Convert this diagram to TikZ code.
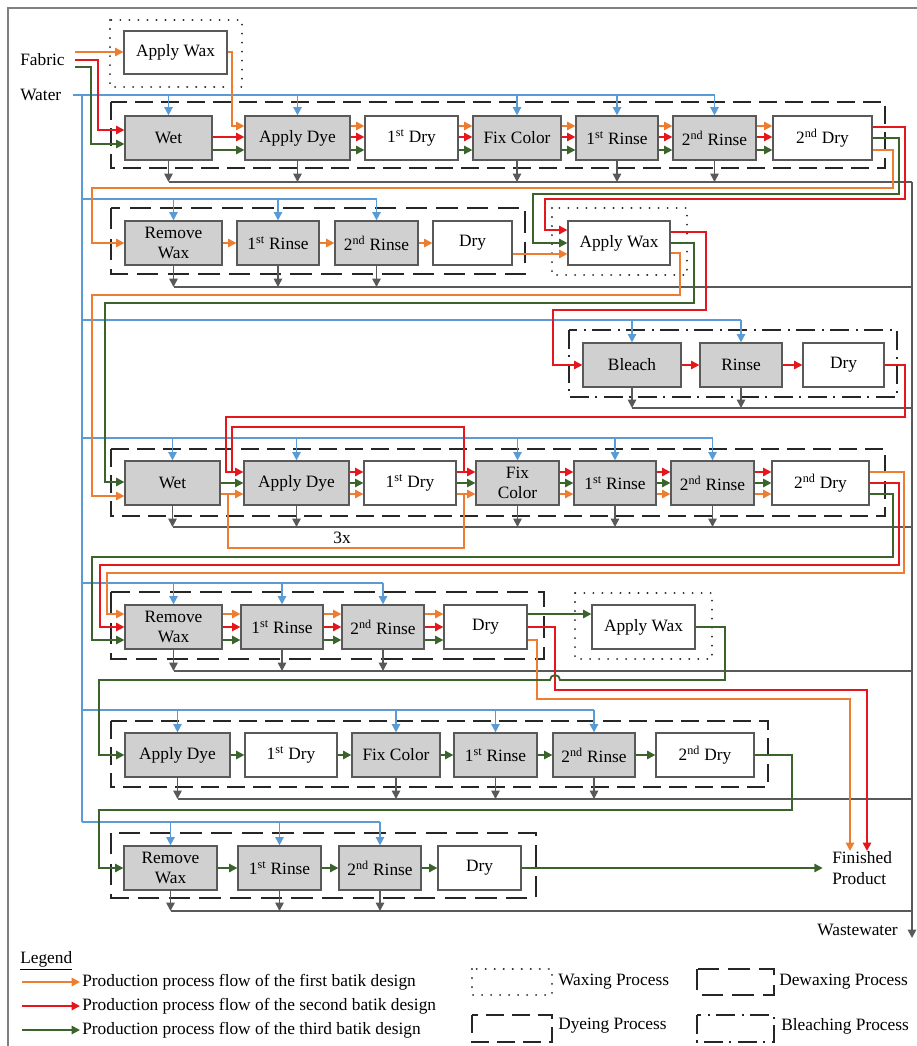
\documentclass[tikz,border=0pt]{standalone}
\usepackage{fontspec}
\setmainfont{Liberation Serif}
\usetikzlibrary{arrows.meta,calc}
\definecolor{orng}{RGB}{237,125,49}
\definecolor{redd}{RGB}{228,24,28}
\definecolor{grn}{RGB}{58,100,44}
\definecolor{blu}{RGB}{91,155,213}
\definecolor{gry}{RGB}{89,89,89}
\definecolor{boxfill}{RGB}{208,208,208}
\definecolor{framec}{RGB}{128,128,128}
\newcommand\bx[7]{\node[procbox,fill=#6,minimum width={(#3-#2)*0.75pt},minimum height={(#5-#4)*0.75pt}] (#1) at ({(#2+#3)/2},{(#4+#5)/2}) {#7};}
\begin{document}
\begin{tikzpicture}[x=0.75pt,y=-0.75pt,font=\fontsize{13}{15}\selectfont,
 procbox/.style={draw=gry,line width=0.9pt,inner sep=0pt,align=center},
 arr/.style={-{Triangle[length=6.2pt,width=6.2pt]}},
 oflow/.style={draw=orng,line width=1.35pt},
 rflow/.style={draw=redd,line width=1.35pt},
 gflow/.style={draw=grn,line width=1.35pt},
 wflow/.style={draw=blu,line width=1.2pt},
 wwflow/.style={draw=gry,line width=1.2pt},
 dyebox/.style={draw=black!85,line width=1.5pt,dash pattern=on 13.5pt off 6pt},
 dewaxbox/.style={draw=black!85,line width=1.5pt,dash pattern=on 16pt off 7pt},
 waxbox/.style={draw=black!85,line width=1.6pt,dash pattern=on 0.01pt off 6.75pt,line cap=round},
 bleachbox/.style={draw=black!85,line width=1.5pt,dash pattern=on 14pt off 5pt on 1.5pt off 5pt},
 lbl/.style={anchor=west,inner sep=0pt}]
\useasboundingbox (0,0) rectangle (917,1046);
\draw[framec,line width=1.5pt] (8,1060) -- (8,8) -- (930,8);
% containers
\draw[waxbox] (110,20) rectangle (242,87);
\draw[dyebox] (111,102) rectangle (885,168);
\draw[dewaxbox] (111,208) rectangle (525,274);
\draw[waxbox] (552,208) rectangle (687,275);
\draw[bleachbox] (569,330) rectangle (897,397);
\draw[dyebox] (111,449) rectangle (885,516);
\draw[dewaxbox] (111,592) rectangle (544,659);
\draw[waxbox] (575,593) rectangle (712,659);
\draw[dyebox] (111,721) rectangle (768,787);
\draw[dewaxbox] (111,833) rectangle (536,898);
% process boxes
\bx{apw1}{124}{227}{31}{74}{white}{Apply Wax}
\bx{wet1}{125}{212}{116}{160}{boxfill}{Wet}
\bx{dye1}{245}{350}{116}{160}{boxfill}{Apply Dye}
\bx{dry1a}{365}{458}{116}{160}{white}{1\textsuperscript{st} Dry}
\bx{fix1}{473}{561}{116}{160}{boxfill}{Fix Color}
\bx{r1a}{576}{658}{116}{160}{boxfill}{1\textsuperscript{st} Rinse}
\bx{r1b}{673}{756}{116}{160}{boxfill}{2\textsuperscript{nd} Rinse}
\bx{dry1b}{773}{872}{116}{160}{white}{2\textsuperscript{nd} Dry}
\bx{rw2}{125}{222}{221}{265}{boxfill}{Remove\\Wax}
\bx{r2a}{237}{319}{221}{265}{boxfill}{1\textsuperscript{st} Rinse}
\bx{r2b}{335}{418}{221}{265}{boxfill}{2\textsuperscript{nd} Rinse}
\bx{dry2}{433}{512}{221}{265}{white}{Dry}
\bx{apw2}{568}{670}{221}{265}{white}{Apply Wax}
\bx{bl3}{583}{681}{343}{387}{boxfill}{Bleach}
\bx{rn3}{700}{782}{343}{387}{boxfill}{Rinse}
\bx{dr3}{803}{884}{343}{387}{white}{Dry}
\bx{wet4}{125}{220}{461}{505}{boxfill}{Wet}
\bx{dye4}{244}{349}{461}{505}{boxfill}{Apply Dye}
\bx{dry4a}{364}{456}{461}{505}{white}{1\textsuperscript{st} Dry}
\bx{fix4}{476}{559}{461}{505}{boxfill}{Fix\\Color}
\bx{r4a}{574}{656}{461}{505}{boxfill}{1\textsuperscript{st} Rinse}
\bx{r4b}{671}{754}{461}{505}{boxfill}{2\textsuperscript{nd} Rinse}
\bx{dry4b}{772}{869}{461}{505}{white}{2\textsuperscript{nd} Dry}
\bx{rw5}{125}{222}{605}{649}{boxfill}{Remove\\Wax}
\bx{r5a}{241}{323}{605}{649}{boxfill}{1\textsuperscript{st} Rinse}
\bx{r5b}{342}{424}{605}{649}{boxfill}{2\textsuperscript{nd} Rinse}
\bx{dry5}{444}{527}{605}{649}{white}{Dry}
\bx{apw3}{592}{695}{605}{649}{white}{Apply Wax}
\bx{dye6}{125}{230}{733}{777}{boxfill}{Apply Dye}
\bx{dry6a}{245}{337}{733}{777}{white}{1\textsuperscript{st} Dry}
\bx{fix6}{352}{440}{733}{777}{boxfill}{Fix Color}
\bx{r6a}{454}{537}{733}{777}{boxfill}{1\textsuperscript{st} Rinse}
\bx{r6b}{553}{635}{733}{777}{boxfill}{2\textsuperscript{nd} Rinse}
\bx{dry6b}{656}{754}{733}{777}{white}{2\textsuperscript{nd} Dry}
\bx{rw7}{124}{217}{846}{890}{boxfill}{Remove\\Wax}
\bx{r7a}{238}{321}{846}{890}{boxfill}{1\textsuperscript{st} Rinse}
\bx{r7b}{339}{421}{846}{890}{boxfill}{2\textsuperscript{nd} Rinse}
\bx{dry7}{438}{521}{846}{890}{white}{Dry}
% text nodes
\node[lbl] (fabric) at (20,60) {Fabric};
\node[lbl] (water) at (20,95) {Water};
\node[lbl,align=left,font=\fontsize{13}{16}\selectfont] (fp) at (832,868) {Finished\\Product};
\node[anchor=east,inner sep=0pt] (ww) at (898,930) {Wastewater};
\node (threex) at (342,538) {3x};
% ---------- water supply ----------
\draw[wflow] (73,95) -- (r1b.north|-0,95);
\draw[wflow] (82,95) -- (82,822);
\foreach \n in {wet1,dye1,fix1,r1a,r1b} \draw[wflow,arr] (\n.north|-0,95) -- (\n.north);
\draw[wflow] (82,199) -- (r2b.north|-0,199);
\foreach \n in {rw2,r2a,r2b} \draw[wflow,arr] (\n.north|-0,199) -- (\n.north);
\draw[wflow] (82,320) -- (rn3.north|-0,320);
\foreach \n in {bl3,rn3} \draw[wflow,arr] (\n.north|-0,320) -- (\n.north);
\draw[wflow] (82,438) -- (r4b.north|-0,438);
\foreach \n in {wet4,dye4,fix4,r4a,r4b} \draw[wflow,arr] (\n.north|-0,438) -- (\n.north);
\draw[wflow] (82,583) -- (r5b.north|-0,583);
\foreach \n in {rw5,r5a,r5b} \draw[wflow,arr] (\n.north|-0,583) -- (\n.north);
\draw[wflow] (82,710) -- (r6b.north|-0,710);
\foreach \n in {dye6,fix6,r6a,r6b} \draw[wflow,arr] (\n.north|-0,710) -- (\n.north);
\draw[wflow] (82,822) -- (r7b.north|-0,822);
\foreach \n in {rw7,r7a,r7b} \draw[wflow,arr] (\n.north|-0,822) -- (\n.north);
% ---------- wastewater ----------
\foreach \n in {wet1,dye1,fix1,r1a,r1b} \draw[wwflow,arr] (\n.south) -- (\n.south|-0,182);
\draw[wwflow] (wet1.south|-0,182) -- (912,182);
\foreach \n in {rw2,r2a,r2b} \draw[wwflow,arr] (\n.south) -- (\n.south|-0,287);
\draw[wwflow] (rw2.south|-0,287) -- (912,287);
\foreach \n in {bl3,rn3} \draw[wwflow,arr] (\n.south) -- (\n.south|-0,408);
\draw[wwflow] (bl3.south|-0,408) -- (912,408);
\foreach \n in {wet4,dye4,fix4,r4a,r4b} \draw[wwflow,arr] (\n.south) -- (\n.south|-0,527);
\draw[wwflow] (wet4.south|-0,527) -- (912,527);
\foreach \n in {rw5,r5a,r5b} \draw[wwflow,arr] (\n.south) -- (\n.south|-0,671);
\draw[wwflow] (rw5.south|-0,671) -- (912,671);
\foreach \n in {dye6,fix6,r6a,r6b} \draw[wwflow,arr] (\n.south) -- (\n.south|-0,799);
\draw[wwflow] (dye6.south|-0,799) -- (912,799);
\foreach \n in {rw7,r7a,r7b} \draw[wwflow,arr] (\n.south) -- (\n.south|-0,911);
\draw[wwflow] (rw7.south|-0,911) -- (912,911);
\draw[wwflow,arr] (912,182) -- (912,938);
% ---------- row 1 ----------
\draw[oflow,arr] (75,52) -- (apw1.west|-0,52);
\draw[rflow,arr] (75,60) -- (98,60) -- (98,130) -- (wet1.west|-0,130);
\draw[gflow,arr] (75,67) -- (91,67) -- (91,144) -- (wet1.west|-0,144);
\draw[oflow,arr] (apw1.east|-0,52) -- (232,52) -- (232,126) -- (dye1.west|-0,126);
\draw[rflow,arr] (wet1.east|-0,137) -- (dye1.west|-0,137);
\draw[gflow,arr] (wet1.east|-0,150) -- (dye1.west|-0,150);
\foreach \a/\b in {dye1/dry1a,dry1a/fix1,fix1/r1a,r1a/r1b,r1b/dry1b}{
 \draw[oflow,arr] (\a.east|-0,126) -- (\b.west|-0,126);
 \draw[rflow,arr] (\a.east|-0,137) -- (\b.west|-0,137);
 \draw[gflow,arr] (\a.east|-0,150) -- (\b.west|-0,150);
}
\draw[rflow,arr] (dry1b.east|-0,127) -- (905,127) -- (905,199) -- (545,199) -- (545,230) -- (apw2.west|-0,230);
\draw[gflow,arr] (dry1b.east|-0,138) -- (899,138) -- (899,194) -- (533,194) -- (533,243) -- (apw2.west|-0,243);
\draw[oflow,arr] (dry1b.east|-0,150) -- (893,150) -- (893,188) -- (92,188) -- (92,243) -- (rw2.west|-0,243);
% ---------- row 2 ----------
\foreach \a/\b in {rw2/r2a,r2a/r2b,r2b/dry2} \draw[oflow,arr] (\a.east|-0,243) -- (\b.west|-0,243);
\draw[oflow,arr] (dry2.east|-0,254) -- (apw2.west|-0,254);
\draw[rflow,arr] (apw2.east|-0,232) -- (706,232) -- (706,310) -- (553,310) -- (553,365) -- (bl3.west);
\draw[gflow,arr] (apw2.east|-0,243) -- (694,243) -- (694,303) -- (105,303) -- (105,482) -- (wet4.west|-0,482);
\draw[oflow,arr] (apw2.east|-0,253) -- (680,253) -- (680,295) -- (92,295) -- (92,496) -- (wet4.west|-0,496);
% ---------- row 3 ----------
\draw[rflow,arr] (bl3.east) -- (rn3.west);
\draw[rflow,arr] (rn3.east) -- (dr3.west);
\draw[rflow,arr] (dr3.east) -- (905,365) -- (905,417) -- (226,417) -- (226,472) -- (dye4.west|-0,472);
% ---------- row 4 ----------
\draw[gflow,arr] (wet4.east|-0,483) -- (dye4.west|-0,483);
\draw[oflow,arr] (wet4.east|-0,494) -- (dye4.west|-0,494);
\foreach \a/\b in {dye4/dry4a,dry4a/fix4,fix4/r4a,r4a/r4b,r4b/dry4b}{
 \draw[rflow,arr] (\a.east|-0,472) -- (\b.west|-0,472);
 \draw[gflow,arr] (\a.east|-0,483) -- (\b.west|-0,483);
 \draw[oflow,arr] (\a.east|-0,494) -- (\b.west|-0,494);
}
\draw[rflow] (dry4a.east|-0,472) -- (464,472) -- (464,427) -- (232,427) -- (232,472);
\draw[oflow] (dry4a.east|-0,494) -- (464,494) -- (464,548) -- (228,548) -- (228,494);
\draw[oflow,arr] (dry4b.east|-0,472) -- (904,472) -- (904,573) -- (107,573) -- (107,614) -- (rw5.west|-0,614);
\draw[rflow,arr] (dry4b.east|-0,483) -- (899,483) -- (899,565) -- (100,565) -- (100,627) -- (rw5.west|-0,627);
\draw[gflow,arr] (dry4b.east|-0,494) -- (893,494) -- (893,557) -- (92,557) -- (92,640) -- (rw5.west|-0,640);
% ---------- row 5 ----------
\foreach \a/\b in {rw5/r5a,r5a/r5b,r5b/dry5}{
 \draw[oflow,arr] (\a.east|-0,614) -- (\b.west|-0,614);
 \draw[rflow,arr] (\a.east|-0,627) -- (\b.west|-0,627);
 \draw[gflow,arr] (\a.east|-0,640) -- (\b.west|-0,640);
}
\draw[gflow,arr] (dry5.east|-0,614) -- (apw3.west|-0,614);
\draw[rflow,arr] (dry5.east|-0,627) -- (555,627) -- (555,690) -- (867,690) -- (fp.north-|867,0);
\draw[oflow,arr] (dry5.east|-0,640) -- (537,640) -- (537,699) -- (850,699) -- (fp.north-|850,0);
\draw[gflow,arr] (apw3.east|-0,627) -- (725,627) -- (725,680) -- (560,680) arc[start angle=0,end angle=180,radius=3.75pt] -- (99,680) -- (99,755) -- (dye6.west);
% ---------- row 6 ----------
\foreach \a/\b in {dye6/dry6a,dry6a/fix6,fix6/r6a,r6a/r6b,r6b/dry6b} \draw[gflow,arr] (\a.east) -- (\b.west);
\draw[gflow,arr] (dry6b.east) -- (792,755) -- (792,810) -- (99,810) -- (99,868) -- (rw7.west);
% ---------- row 7 ----------
\foreach \a/\b in {rw7/r7a,r7a/r7b,r7b/dry7} \draw[gflow,arr] (\a.east) -- (\b.west);
\draw[gflow,arr] (dry7.east) -- ([xshift=-7pt]fp.west);
% ---------- legend ----------
\node[lbl] (leg) at (20,961) {\underline{Legend}};
\node[lbl] (l1) at (82,982) {Production process flow of the first batik design};
\node[lbl] (l2) at (82,1006) {Production process flow of the second batik design};
\node[lbl] (l3) at (82,1030) {Production process flow of the third batik design};
\draw[oflow,arr] (22,982) -- ([xshift=-1.5pt]l1.west);
\draw[rflow,arr] (22,1006) -- ([xshift=-1.5pt]l2.west);
\draw[gflow,arr] (22,1030) -- ([xshift=-1.5pt]l3.west);
\draw[waxbox] (472,969) rectangle (552,995);
\node[lbl] (lwax) at (558,982) {Waxing Process};
\draw[dewaxbox] (697,969) rectangle (774,995);
\node[lbl] (ldewax) at (779,982) {Dewaxing Process};
\draw[dyebox] (472,1015) rectangle (552,1042);
\node[lbl] (ldye) at (558,1026) {Dyeing Process};
\draw[bleachbox] (697,1015) rectangle (774,1042);
\node[lbl] (lbleach) at (781,1026) {Bleaching Process};
\end{tikzpicture}
\end{document}
